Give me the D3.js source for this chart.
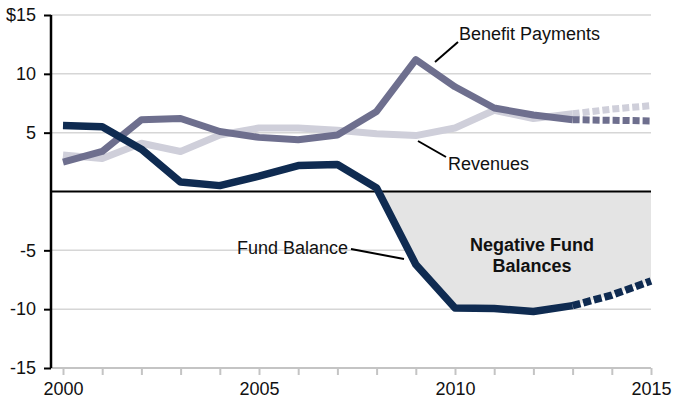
<!DOCTYPE html>
<html>
<head>
<meta charset="utf-8">
<script src="https://cdn.jsdelivr.net/npm/d3@7/dist/d3.min.js"></script>
<style>
  html, body { margin: 0; padding: 0; background: #fff; }
  svg text { font-family: "Liberation Sans", Arial, Helvetica, sans-serif; }
</style>
</head>
<body>
<svg id="chart" width="678" height="399"></svg>
<script>
// Annual values, $ billions
const years = [2000, 2001, 2002, 2003, 2004, 2005, 2006, 2007, 2008, 2009, 2010, 2011, 2012, 2013];
const fundBalance = [5.6, 5.5, 3.6, 0.8, 0.5, 1.3, 2.2, 2.3, 0.3, -6.2, -9.9, -9.95, -10.2, -9.7];
const benefitPayments = [2.5, 3.4, 6.1, 6.2, 5.1, 4.6, 4.4, 4.8, 6.8, 11.2, 8.9, 7.1, 6.5, 6.1];
const revenues = [3.1, 2.8, 4.1, 3.4, 4.8, 5.4, 5.4, 5.2, 4.9, 4.75, 5.4, 6.9, 6.2, 6.6];

// Projections
const projYears = [2013, 2014, 2015];
const fundBalanceProj = [-9.7, -8.8, -7.6];
const benefitPaymentsProj = [6.1, 6.05, 6.0];
const revenuesProj = [6.6, 7.0, 7.3];

const yTicks = [15, 10, 5, -5, -10, -15];
const yTickLabels = ["$15", "10", "5", "-5", "-10", "-15"];
const xTicks = d3.range(2000, 2016);
const xTickLabels = { 2000: "2000", 2005: "2005", 2010: "2010", 2015: "2015" };

const svg = d3.select("#chart");
const x = d3.scaleLinear().domain([2000, 2015]).range([63, 651]);
const y = d3.scaleLinear().domain([-15, 15]).range([368, 15]);
const plotLeft = 51, plotRight = 651;

const colors = {
  fund: "#0f2b51",
  benefit: "#6e6f8e",
  revenue: "#cfcfda",
  fill: "#e4e4e4",
  grid: "#d6d6d6",
  axisX: "#c4c4c4"
};

// Negative fund balance shading: area between zero and the fund line where it dips below zero
const allYears = years.concat(projYears.slice(1));
const allFund = fundBalance.concat(fundBalanceProj.slice(1));
const fundPts = allYears.map((yr, i) => ({ yr, v: allFund[i] }));
const negArea = d3.area()
  .x(d => x(d.yr))
  .y0(y(0))
  .y1(d => y(Math.min(0, d.v)));
const iCross = allFund.findIndex((v, i) => i > 0 && allFund[i - 1] >= 0 && v < 0);
const a = fundPts[iCross - 1], b = fundPts[iCross];
const crossYr = a.yr + (a.v / (a.v - b.v)) * (b.yr - a.yr);
const negPts = [{ yr: crossYr, v: 0 }].concat(fundPts.slice(iCross));

// Gridlines
svg.append("g").selectAll("line")
  .data(yTicks.filter(t => t !== -15))
  .join("line")
  .attr("x1", plotLeft).attr("x2", plotRight)
  .attr("y1", d => y(d)).attr("y2", d => y(d))
  .attr("stroke", colors.grid).attr("stroke-width", 1.5);

svg.append("path")
  .datum(negPts)
  .attr("d", negArea)
  .attr("fill", colors.fill);

// Bottom axis
const xAxis = d3.axisBottom(x)
  .tickValues(xTicks)
  .tickSize(7)
  .tickFormat(d => xTickLabels[d] || "");
const gx = svg.append("g").attr("transform", `translate(0,${y(-15)})`).call(xAxis);
gx.select(".domain").remove();
gx.selectAll(".tick line").attr("stroke", colors.axisX).attr("stroke-width", 2);
gx.selectAll(".tick text").attr("font-size", 18).attr("fill", "#111").attr("dy", "0.95em");
gx.append("line")
  .attr("x1", plotLeft).attr("x2", plotRight)
  .attr("stroke", colors.axisX).attr("stroke-width", 2);

// Left axis
const yAxis = d3.axisLeft(y)
  .tickValues(yTicks)
  .tickSize(7)
  .tickPadding(8)
  .tickFormat((d, i) => yTickLabels[i]);
const gy = svg.append("g").attr("transform", `translate(${plotLeft},0)`).call(yAxis);
gy.select(".domain").attr("stroke", "#000").attr("stroke-width", 2.5)
  .attr("d", `M0,${y(15)}V${y(-15)}`);
gy.selectAll(".tick line").attr("stroke", "#000").attr("stroke-width", 2);
gy.selectAll(".tick text").attr("font-size", 18).attr("fill", "#111");

// Zero line
svg.append("line")
  .attr("x1", plotLeft).attr("x2", plotRight)
  .attr("y1", y(0)).attr("y2", y(0))
  .attr("stroke", "#000").attr("stroke-width", 2);

const line = d3.line().x(d => x(d[0])).y(d => y(d[1]));
const zip = (xs, vs) => xs.map((d, i) => [d, vs[i]]);

function series(vals, proj, color, width, dash) {
  svg.append("path")
    .datum(zip(projYears, proj))
    .attr("d", line)
    .attr("fill", "none")
    .attr("stroke", color)
    .attr("stroke-width", width)
    .attr("stroke-dasharray", dash);
  svg.append("path")
    .datum(zip(years, vals))
    .attr("d", line)
    .attr("fill", "none")
    .attr("stroke", color)
    .attr("stroke-width", width)
    .attr("stroke-linejoin", "round");
}

series(revenues, revenuesProj, colors.revenue, 7, "7,3");
series(benefitPayments, benefitPaymentsProj, colors.benefit, 7, "7,3");
series(fundBalance, fundBalanceProj, colors.fund, 7.5, "8,3");

// Annotations
const notes = svg.append("g").attr("font-size", 18).attr("fill", "#111");
function leader(x1, y1, x2, y2) {
  svg.append("line").attr("x1", x1).attr("y1", y1).attr("x2", x2).attr("y2", y2)
    .attr("stroke", "#000").attr("stroke-width", 2);
}
leader(435, 62, 458, 42);
notes.append("text").attr("x", 459).attr("y", 40).text("Benefit Payments");
leader(418, 141, 446, 157);
notes.append("text").attr("x", 448).attr("y", 170).text("Revenues");
leader(351, 249, 404, 259);
notes.append("text").attr("x", 348).attr("y", 254).attr("text-anchor", "end").text("Fund Balance");

const bold = svg.append("g").attr("font-size", 18).attr("font-weight", "bold")
  .attr("text-anchor", "middle").attr("fill", "#111");
bold.append("text").attr("x", 532).attr("y", 251).text("Negative Fund");
bold.append("text").attr("x", 532).attr("y", 272).text("Balances");
</script>
</body>
</html>
